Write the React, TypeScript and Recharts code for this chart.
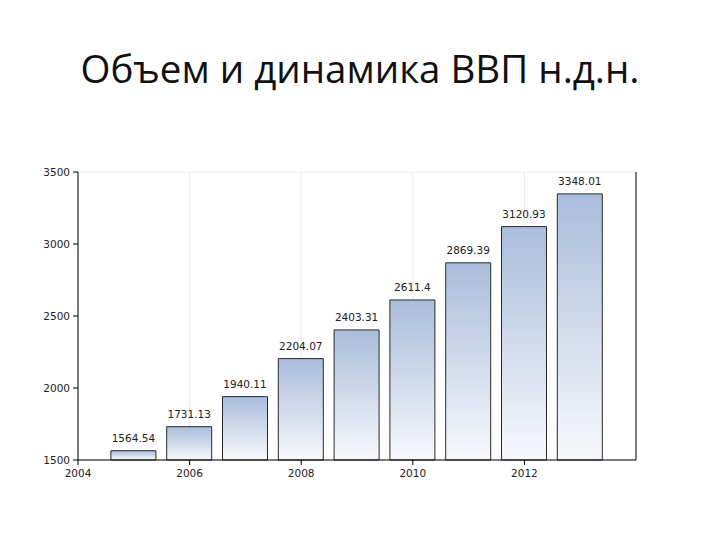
import React from "react";
import {
  BarChart,
  Bar,
  XAxis,
  YAxis,
  CartesianGrid,
  LabelList,
} from "recharts";

const years = [2005, 2006, 2007, 2008, 2009, 2010, 2011, 2012, 2013];
const gdp = [1564.54, 1731.13, 1940.11, 2204.07, 2403.31, 2611.4, 2869.39, 3120.93, 3348.01];
const xTicks = [2004, 2006, 2008, 2010, 2012];
const yTicks = [1500, 2000, 2500, 3000, 3500];

const data = years.map((year, i) => ({ year, value: gdp[i] }));

const tickStyle = { fontSize: 10.5, fill: "#222", fontFamily: "DejaVu Sans" };

export default function App() {
  return (
    <div
      style={{
        position: "absolute",
        left: 0,
        top: 0,
        width: 720,
        height: 540,
        background: "#fff",
      }}
    >
      {/* Заголовок */}
      <div
        style={{
          position: "absolute",
          left: 0,
          top: 43,
          width: 720,
          textAlign: "center",
          fontFamily: "Open Sans",
          fontSize: 38.5,
          color: "#111",
          lineHeight: "50px",
        }}
      >
        Объем и динамика ВВП н.д.н.
      </div>

      <div style={{ position: "absolute", left: 0, top: 0 }}>
        <BarChart
          width={720}
          height={540}
          data={data}
          margin={{ top: 172, right: 34, bottom: 50, left: 38 }}
        >
          <defs>
            <linearGradient id="barFill" x1="0" y1="0" x2="0" y2="1">
              <stop offset="0%" stopColor="#a9bddb" />
              <stop offset="100%" stopColor="#f8f9fc" />
            </linearGradient>
          </defs>
          <CartesianGrid stroke="#e6e6e6" strokeDasharray="3 1" />
          <XAxis
            dataKey="year"
            type="number"
            domain={[2004, 2014]}
            ticks={xTicks}
            tick={tickStyle}
            tickSize={5}
            tickMargin={5}
            axisLine={{ stroke: "#000" }}
            tickLine={{ stroke: "#000" }}
            height={30}
          />
          <YAxis
            yAxisId="left"
            domain={[1500, 3500]}
            ticks={yTicks}
            tick={tickStyle}
            tickSize={5}
            tickMargin={3}
            axisLine={{ stroke: "#000" }}
            tickLine={{ stroke: "#000" }}
            width={40}
          />
          <YAxis
            yAxisId="right"
            orientation="right"
            domain={[1500, 3500]}
            ticks={yTicks}
            tick={tickStyle}
            tickSize={7}
            tickMargin={5}
            axisLine={{ stroke: "#000" }}
            tickLine={{ stroke: "#000" }}
            width={50}
          />
          <Bar
            yAxisId="left"
            dataKey="value"
            fill="url(#barFill)"
            stroke="#2a2a2a"
            strokeWidth={1}
            barSize={45}
            isAnimationActive={false}
          >
            <LabelList
              dataKey="value"
              position="top"
              offset={9}
              style={{ fontSize: 10.5, fill: "#222", fontFamily: "DejaVu Sans" }}
            />
          </Bar>
        </BarChart>
      </div>
    </div>
  );
}
